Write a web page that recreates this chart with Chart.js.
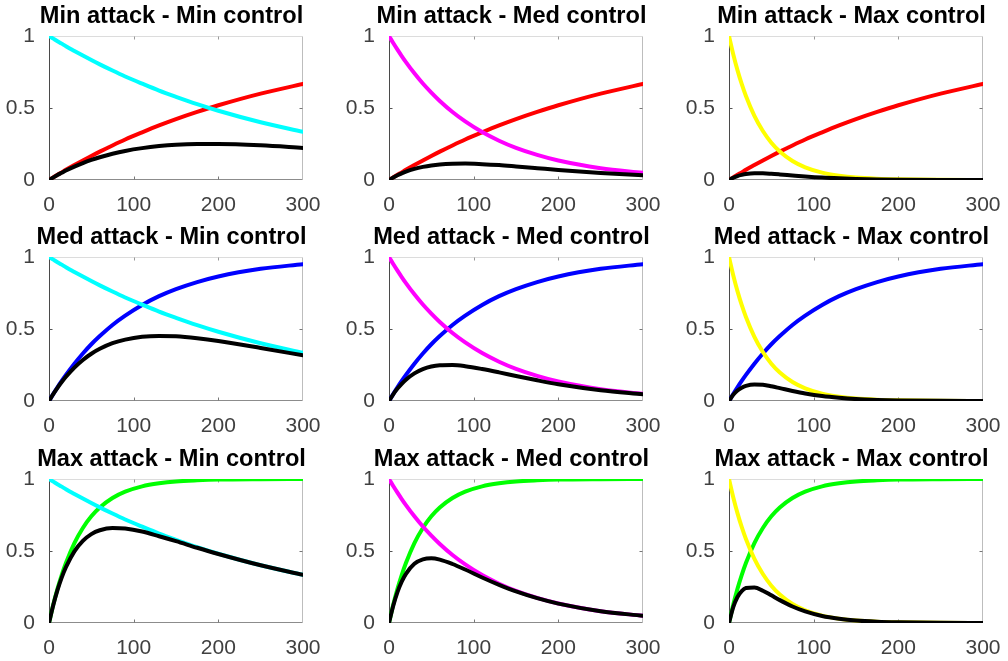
<!DOCTYPE html>
<html>
<head>
<meta charset="utf-8">
<script src="https://cdn.jsdelivr.net/npm/chart.js@4/dist/chart.umd.min.js"></script>
<style>
  html, body { margin: 0; padding: 0; background: #ffffff; overflow: hidden; }
  #wrap { position: relative; width: 1008px; height: 661px; overflow: hidden; background: #fff; }
  canvas { position: absolute; }
</style>
</head>
<body>
<div id="wrap"></div>
<script>
// ---- Data ----
const T = [0, 5, 10, 15, 20, 30, 40, 50, 60, 75, 90, 110, 130, 150, 175, 200, 250, 300];

const attackMin = [0, 0.018, 0.036, 0.053, 0.071, 0.104, 0.136, 0.167, 0.197, 0.240, 0.281, 0.331, 0.379, 0.423, 0.473, 0.519, 0.600, 0.667];
const attackMed = [0, 0.049, 0.095, 0.139, 0.181, 0.259, 0.330, 0.394, 0.451, 0.528, 0.593, 0.667, 0.728, 0.777, 0.826, 0.865, 0.918, 0.950];
const attackMax = [0, 0.126, 0.237, 0.333, 0.417, 0.555, 0.660, 0.741, 0.802, 0.868, 0.912, 0.949, 0.970, 0.983, 0.991, 0.996, 0.999, 1.000];

const controlMin = [1, 0.982, 0.964, 0.947, 0.929, 0.896, 0.864, 0.833, 0.803, 0.760, 0.719, 0.669, 0.621, 0.578, 0.527, 0.481, 0.401, 0.334];
const controlMed = [1, 0.951, 0.905, 0.861, 0.819, 0.741, 0.670, 0.607, 0.549, 0.472, 0.407, 0.333, 0.273, 0.223, 0.174, 0.135, 0.082, 0.050];
const controlMax = [1, 0.874, 0.763, 0.667, 0.583, 0.445, 0.340, 0.259, 0.198, 0.132, 0.088, 0.051, 0.030, 0.017, 0.009, 0.005, 0.001, 0.000];

const netMinMin = [0, 0.0177, 0.0347, 0.0502, 0.0660, 0.0932, 0.1175, 0.1391, 0.1582, 0.1824, 0.2020, 0.2214, 0.2354, 0.2445, 0.2493, 0.2496, 0.2406, 0.2228];
const netMinMed = [0, 0.0171, 0.0326, 0.0456, 0.0581, 0.0771, 0.0911, 0.1014, 0.1082, 0.1133, 0.1144, 0.1102, 0.1035, 0.0943, 0.0823, 0.0701, 0.0492, 0.0334];
const netMinMax = [0, 0.0157, 0.0275, 0.0354, 0.0414, 0.0463, 0.0462, 0.0433, 0.0390, 0.0317, 0.0247, 0.0169, 0.0114, 0.0072, 0.0043, 0.0026, 0.0007, 0.0002];
const netMedMin = [0, 0.0481, 0.0916, 0.1316, 0.1681, 0.2321, 0.2851, 0.3282, 0.3622, 0.4013, 0.4264, 0.4462, 0.4521, 0.4491, 0.4353, 0.4161, 0.3681, 0.3173];
const netMedMed = [0, 0.0466, 0.0860, 0.1197, 0.1482, 0.1919, 0.2211, 0.2392, 0.2476, 0.2492, 0.2414, 0.2221, 0.1987, 0.1733, 0.1437, 0.1168, 0.0753, 0.0475];
const netMedMax = [0, 0.0428, 0.0725, 0.0927, 0.1055, 0.1153, 0.1122, 0.1020, 0.0893, 0.0697, 0.0522, 0.0340, 0.0218, 0.0132, 0.0074, 0.0043, 0.0011, 0.0003];
const netMaxMin = [0, 0.1237, 0.2285, 0.3154, 0.3874, 0.4973, 0.5702, 0.6173, 0.6440, 0.6597, 0.6557, 0.6349, 0.6024, 0.5682, 0.5223, 0.4791, 0.4006, 0.3340];
const netMaxMed = [0, 0.1198, 0.2145, 0.2867, 0.3415, 0.4113, 0.4422, 0.4498, 0.4403, 0.4097, 0.3712, 0.3160, 0.2648, 0.2192, 0.1724, 0.1345, 0.0819, 0.0500];
const netMaxMax = [0, 0.1101, 0.1808, 0.2221, 0.2431, 0.2470, 0.2244, 0.1919, 0.1588, 0.1146, 0.0803, 0.0484, 0.0291, 0.0167, 0.0089, 0.0050, 0.0010, 0.0003];

const xTicks = [0, 100, 200, 300];
const yTicks = [0, 0.5, 1];
const yTickLabels = ['0', '0.5', '1'];

const titles = [
  'Min attack - Min control', 'Min attack - Med control', 'Min attack - Max control',
  'Med attack - Min control', 'Med attack - Med control', 'Med attack - Max control',
  'Max attack - Min control', 'Max attack - Med control', 'Max attack - Max control'
];
const attackSeries = [attackMin, attackMin, attackMin, attackMed, attackMed, attackMed, attackMax, attackMax, attackMax];
const controlSeries = [controlMin, controlMed, controlMax, controlMin, controlMed, controlMax, controlMin, controlMed, controlMax];
const netSeries = [netMinMin, netMinMed, netMinMax, netMedMin, netMedMed, netMedMax, netMaxMin, netMaxMed, netMaxMax];

const attackColors = ['#ff0000', '#0000ff', '#00ff00'];
const controlColors = ['#00ffff', '#ff00ff', '#ffff00'];

// ---- Layout ----
const colLeft = [0, 340, 680];
const rowTop = [0, 221, 443];
const CW = 343, CH = 221;
const FONT = "'Liberation Sans', Arial, sans-serif";

const boxPlugin = {
  id: 'matlabBox',
  beforeDatasetsDraw(chart) {
    const ctx = chart.ctx;
    const a = chart.chartArea;
    const xs = chart.scales.x, ys = chart.scales.y;
    const L = Math.round(a.left) + 0.5, R = Math.round(a.right) - 0.5;
    const Tp = Math.round(a.top) + 0.5, B = Math.round(a.bottom) - 0.5;
    ctx.save();
    ctx.lineWidth = 1;
    const seg = (x1, y1, x2, y2, c) => { ctx.strokeStyle = c; ctx.beginPath(); ctx.moveTo(x1, y1); ctx.lineTo(x2, y2); ctx.stroke(); };
    seg(L, Tp, R, Tp, '#dcdcdc');
    seg(R, Tp, R, B, '#bdbdbd');
    seg(L, B, R, B, '#8c8c8c');
    seg(L, Tp, L, B, '#4a4a4a');
    // inward tick marks
    const tl = 3;
    xTicks.slice(1, -1).forEach(v => {
      const px = Math.round(xs.getPixelForValue(v)) + 0.5;
      seg(px, B, px, B - tl, '#777777');
      seg(px, Tp, px, Tp + tl, '#999999');
    });
    yTicks.slice(1, -1).forEach(v => {
      const py = Math.round(ys.getPixelForValue(v)) + 0.5;
      seg(L, py, L + tl, py, '#555555');
      seg(R, py, R - tl, py, '#777777');
    });
    ctx.restore();
  }
};

for (let i = 0; i < 9; i++) {
  const r = Math.floor(i / 3), c = i % 3;
  const cv = document.createElement('canvas');
  cv.width = CW; cv.height = CH;
  cv.style.width = CW + 'px'; cv.style.height = CH + 'px';
  cv.style.left = colLeft[c] + 'px'; cv.style.top = rowTop[r] + 'px';
  document.getElementById('wrap').appendChild(cv);

  const toXY = arr => T.map((t, k) => ({ x: t, y: arr[k] }));
  const common = { pointRadius: 0, pointHoverRadius: 0, borderWidth: 4, fill: false, cubicInterpolationMode: 'monotone', borderCapStyle: 'round', borderJoinStyle: 'round' };

  new Chart(cv, {
    type: 'line',
    data: {
      datasets: [
        Object.assign({ label: 'Net', data: toXY(netSeries[i]), borderColor: '#000000', order: 0 }, common),
        Object.assign({ label: 'Control', data: toXY(controlSeries[i]), borderColor: controlColors[c], order: 1 }, common),
        Object.assign({ label: 'Attack', data: toXY(attackSeries[i]), borderColor: attackColors[r], order: 2 }, common)
      ]
    },
    options: {
      responsive: false,
      animation: false,
      devicePixelRatio: 1,
      events: [],
      layout: { padding: 0 },
      plugins: {
        legend: { display: false },
        tooltip: { enabled: false },
        title: {
          display: true,
          text: titles[i],
          color: '#000000',
          font: { family: FONT, size: 23.6, weight: 'bold', lineHeight: 1 },
          padding: { top: 5, bottom: 7.4 }
        }
      },
      scales: {
        x: {
          type: 'linear', min: 0, max: 300,
          grid: { display: false, drawTicks: false },
          border: { display: false },
          afterBuildTicks: s => { s.ticks = xTicks.map(v => ({ value: v })); },
          ticks: { color: '#404040', font: { family: FONT, size: 21 }, padding: 13, maxRotation: 0, autoSkip: false },
          afterFit: s => { s.height = 41; s.paddingLeft = 0; s.paddingRight = 40; }
        },
        y: {
          type: 'linear', min: 0, max: 1,
          grid: { display: false, drawTicks: false },
          border: { display: false },
          afterBuildTicks: s => { s.ticks = yTicks.map(v => ({ value: v })); },
          ticks: {
            color: '#404040', font: { family: FONT, size: 21 }, padding: 14, autoSkip: false,
            callback: v => { const k = yTicks.indexOf(v); return k >= 0 ? yTickLabels[k] : ''; }
          },
          afterFit: s => { s.width = 49; s.paddingTop = 0; s.paddingBottom = 0; }
        }
      }
    },
    plugins: [boxPlugin]
  });
}
</script>
</body>
</html>
